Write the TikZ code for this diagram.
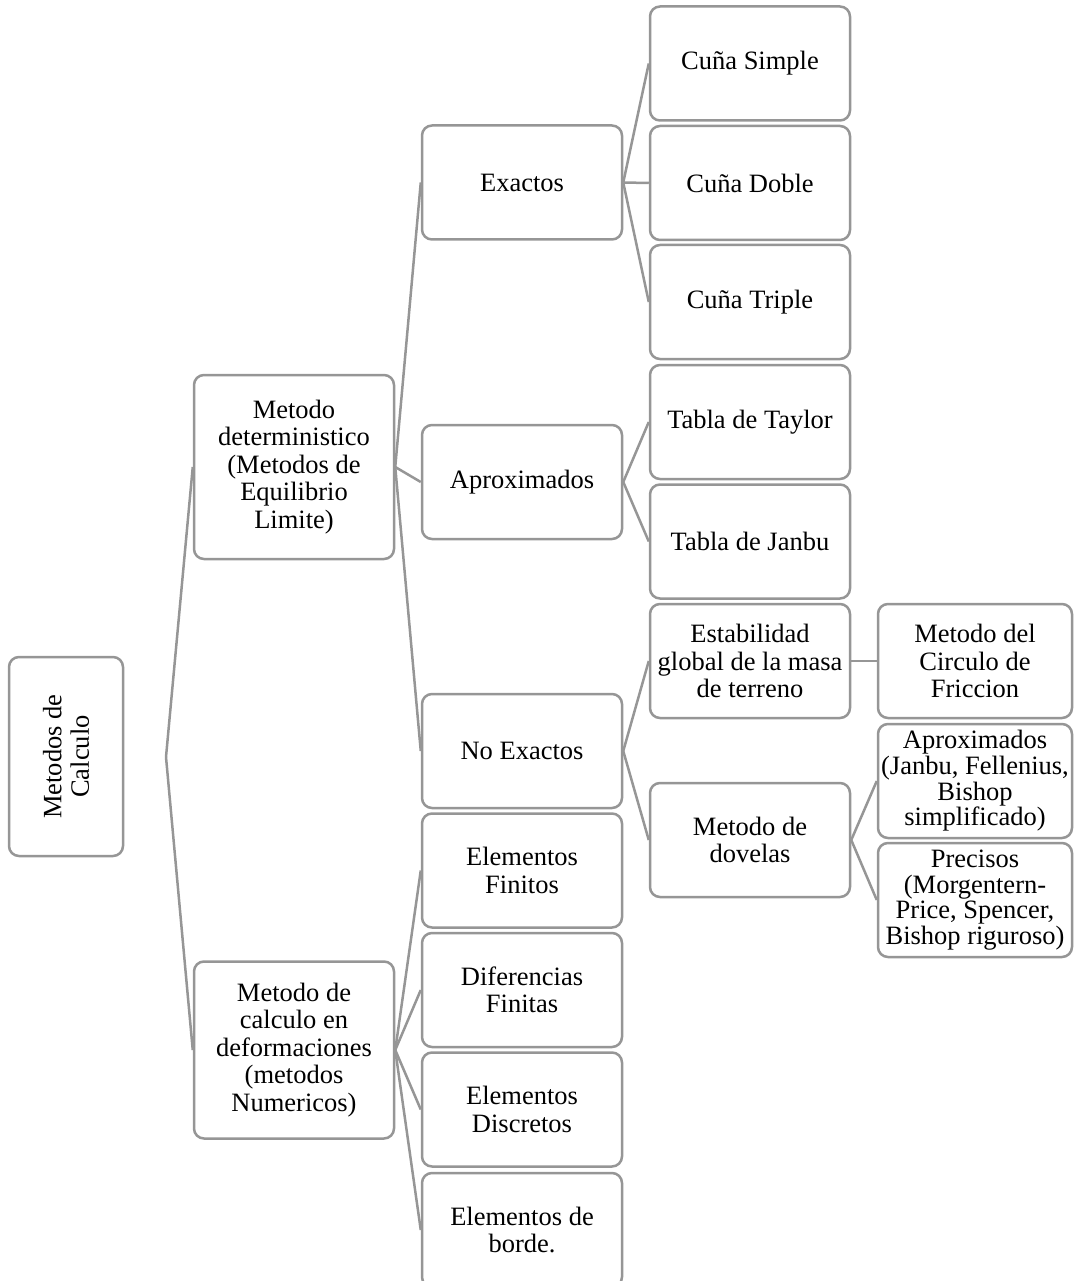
\documentclass[tikz,border=0pt]{standalone}
\usepackage{fontspec}
\setmainfont{Liberation Serif}
\definecolor{lgray}{RGB}{150,150,150}
\tikzset{
  bx/.style={draw=lgray, line width=2.5pt, rounded corners=10pt, fill=white,
    inner sep=0pt, align=center, text=black,
    font=\fontsize{26.5}{27.5}\selectfont},
  tight/.style={font=\fontsize{26.5}{25.7}\selectfont},
  ln/.style={draw=lgray, line width=2.5pt},
  w200/.style={minimum width=200pt},
  h114/.style={minimum height=114pt}
}
\begin{document}
\begin{tikzpicture}[x=1pt,y=-1pt]
\useasboundingbox (0,0) rectangle (1073,1281);
% root
\node[bx, minimum width=114pt, minimum height=199pt] (root) at (66,756.5) {};
\node[rotate=90, align=center, font=\fontsize{26.5}{27.5}\selectfont] (roottxt) at (root.center) {Metodos de\\Calculo};
\coordinate (rj) at (166,757);
% level 1
\node[bx, w200, minimum height=184pt] (det) at (294,467) {Metodo\\deterministico\\(Metodos de\\Equilibrio\\Limite)};
\node[bx, w200, minimum height=177pt] (def) at (294,1050) {Metodo de\\calculo en\\deformaciones\\(metodos\\Numericos)};
% level 2
\node[bx, w200, h114] (exa) at (522,182.5) {Exactos};
\node[bx, w200, h114] (apr) at (522,482) {Aproximados};
\node[bx, w200, h114] (noe) at (522,751) {No Exactos};
\node[bx, w200, h114] (ef) at (522,870.5) {Elementos\\Finitos};
\node[bx, w200, h114] (dfi) at (522,990) {Diferencias\\Finitas};
\node[bx, w200, h114] (ed) at (522,1109.5) {Elementos\\Discretos};
\node[bx, w200, h114] (eb) at (522,1230) {Elementos de\\borde.};
% level 3
\node[bx, w200, h114] (cs) at (750,63.5) {Cuña Simple};
\node[bx, w200, h114] (cd) at (750,183) {Cuña Doble};
\node[bx, w200, h114] (ct) at (750,302) {Cuña Triple};
\node[bx, w200, h114] (tt) at (750,422) {Tabla de Taylor};
\node[bx, w200, h114] (tj) at (750,541.5) {Tabla de Janbu};
\node[bx, w200, h114] (est) at (750,661) {Estabilidad\\global de la masa\\de terreno};
\node[bx, w200, h114] (dov) at (750,840) {Metodo de\\dovelas};
% level 4
\node[bx, minimum width=194pt, h114] (cir) at (975,661) {Metodo del\\Circulo de\\Friccion};
\node[bx, tight, minimum width=194pt, h114] (apx) at (975,781) {Aproximados\\(Janbu, Fellenius,\\Bishop\\simplificado)};
\node[bx, tight, minimum width=194pt, h114] (pre) at (975,900) {Precisos\\(Morgentern-\\Price, Spencer,\\Bishop riguroso)};
% connectors
\draw[ln] (rj) -- (det.west);
\draw[ln] (rj) -- (def.west);
\foreach \c in {exa,apr,noe} \draw[ln] (det.east) -- (\c.west);
\foreach \c in {ef,dfi,ed,eb} \draw[ln] (def.east) -- (\c.west);
\foreach \c in {cs,cd,ct} \draw[ln] (exa.east) -- (\c.west);
\foreach \c in {tt,tj} \draw[ln] (apr.east) -- (\c.west);
\foreach \c in {est,dov} \draw[ln] (noe.east) -- (\c.west);
\draw[ln] (est.east) -- (cir.west);
\foreach \c in {apx,pre} \draw[ln] (dov.east) -- (\c.west);
\end{tikzpicture}
\end{document}
